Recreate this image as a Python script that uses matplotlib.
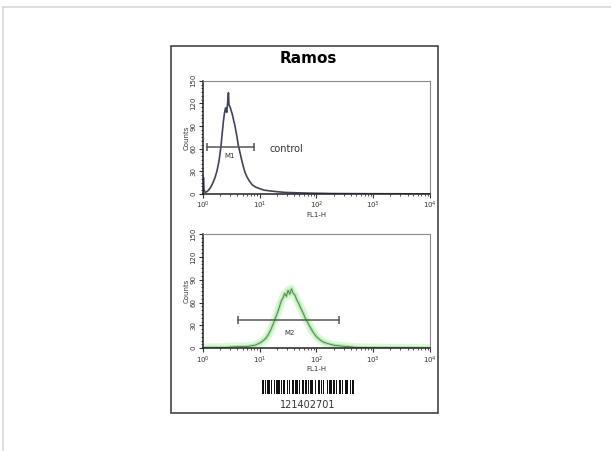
import numpy as np
import matplotlib.pyplot as plt
from matplotlib.lines import Line2D
from matplotlib.patches import Rectangle
from matplotlib.ticker import MultipleLocator, LogLocator, NullFormatter

# histogram data (log10 of FL1-H channel, counts)
top_logx = [0.0, 0.01, 0.02, 0.04, 0.07, 0.10, 0.13, 0.16, 0.19, 0.22, 0.25, 0.28, 0.30,
            0.32, 0.34, 0.36, 0.38, 0.40, 0.42, 0.44, 0.45, 0.46, 0.48, 0.50, 0.52, 0.54,
            0.56, 0.58, 0.60, 0.62, 0.65, 0.68, 0.71, 0.74, 0.78, 0.82, 0.87, 0.93, 1.00,
            1.08, 1.18, 1.30, 1.45, 1.65, 1.90, 2.30, 2.80, 3.40, 4.00]
top_counts = [0, 22, 6, 2, 3, 5, 8, 12, 17, 23, 31, 42, 52, 64, 80, 95, 107, 114, 108, 124,
              134, 118, 115, 110, 105, 98, 92, 84, 76, 66, 56, 46, 37, 29, 22, 17, 12, 9,
              7, 5, 4, 3, 2, 1.5, 1, 0.5, 0.3, 0.2, 0]

bot_logx = [0.0, 0.2, 0.4, 0.6, 0.75, 0.85, 0.92, 0.98, 1.03, 1.08, 1.12, 1.16, 1.20, 1.24,
            1.28, 1.32, 1.35, 1.38, 1.41, 1.44, 1.47, 1.50, 1.53, 1.56, 1.59, 1.62, 1.65,
            1.68, 1.72, 1.76, 1.80, 1.85, 1.90, 1.95, 2.00, 2.06, 2.12, 2.20, 2.30, 2.40,
            2.55, 2.70, 3.00, 3.50, 4.00]
bot_counts = [0.5, 1, 1, 2, 2, 3, 4, 6, 8, 11, 14, 19, 25, 32, 40, 48, 55, 62, 66, 72, 68,
              76, 71, 78, 72, 70, 64, 60, 53, 47, 40, 33, 26, 20, 15, 11, 8, 6, 4, 3, 2, 1,
              0.5, 0.3, 0]

# marker gates (FL1-H range, count level)
m1_range = [1.17, 8.1]
m1_level = 62
m2_range = [4.1, 251]
m2_level = 37

y_ticks = [0, 30, 60, 90, 120, 150]
x_ticks = [1, 10, 100, 1000, 10000]
x_ticklabels = ['$10^0$', '$10^1$', '$10^2$', '$10^3$', '$10^4$']

barcode_widths = [2, 1, 1, 1, 2, 1, 1, 2, 1, 1, 3, 1, 1, 1, 2, 2, 1, 1, 1, 1, 2, 1, 3, 1,
                  1, 2, 1, 1, 2, 1, 1, 1, 3, 1, 1, 2, 2, 1, 1, 1, 1, 2, 1, 1, 3, 1, 2, 1,
                  1, 1, 2, 1, 1, 2, 3, 1, 1, 1, 2, 1]

fig = plt.figure(figsize=(6.11, 4.51), dpi=100)
fig.patch.set_facecolor('white')

# page frame and sample box
fig.add_artist(Line2D([3/611, 1], [1 - 7/451, 1 - 7/451], color='#d8d8d8', lw=1.2))
fig.add_artist(Line2D([3/611, 3/611], [0, 1 - 7/451], color='#d8d8d8', lw=1.2))
fig.add_artist(Rectangle((0.280, 0.084), 0.437, 0.814, fill=False, ec='#444444', lw=1.2))
fig.text(0.505, 0.870, 'Ramos', ha='center', va='center', fontsize=11, fontweight='bold')


def style_axes(ax):
    ax.set_xscale('log')
    ax.set_xlim(1, 10000)
    ax.set_ylim(0, 150)
    ax.set_xticks(x_ticks)
    ax.set_xticklabels(x_ticklabels)
    ax.xaxis.set_minor_locator(LogLocator(base=10, subs=np.arange(2, 10)))
    ax.xaxis.set_minor_formatter(NullFormatter())
    ax.set_yticks(y_ticks)
    ax.yaxis.set_minor_locator(MultipleLocator(5))
    ax.tick_params(axis='both', which='major', length=3, width=0.8, labelsize=5, pad=1.5, color='#333333')
    ax.tick_params(axis='both', which='minor', length=1.5, width=0.6, color='#333333')
    ax.tick_params(axis='x', labelcolor='#333333')
    ax.tick_params(axis='y', labelcolor='#333333', labelrotation=90)
    for lab in ax.get_yticklabels():
        lab.set_va('center')
    for s in ['left', 'bottom']:
        ax.spines[s].set_color('#222222')
        ax.spines[s].set_linewidth(1.1)
    for s in ['top', 'right']:
        ax.spines[s].set_color('#8a8a8a')
        ax.spines[s].set_linewidth(0.8)
    ax.set_ylabel('Counts', fontsize=5, labelpad=1, color='#333333')
    ax.set_xlabel('FL1-H', fontsize=5, labelpad=0.5, color='#333333')


ax1 = fig.add_axes([0.332, 0.570, 0.372, 0.251])
style_axes(ax1)
ax1.plot(10 ** np.array(top_logx), top_counts, color='#3f4458', lw=1.2)
ax1.plot(m1_range, [m1_level, m1_level], color='#555555', lw=1.1,
         marker='|', markersize=6, markeredgewidth=1.1)
ax1.text(np.sqrt(m1_range[0] * m1_range[1]) * 0.95, 50, 'M1', fontsize=5,
         ha='center', va='center', color='#333333')
ax1.text(15, 59, 'control', fontsize=7, ha='left', va='center', color='#333333')

ax2 = fig.add_axes([0.332, 0.228, 0.372, 0.253])
style_axes(ax2)
bx = 10 ** np.array(bot_logx)
ax2.plot(bx, bot_counts, color='#c6f2c0', lw=6, alpha=0.6, solid_capstyle='round')
ax2.plot(bx, bot_counts, color='#9be496', lw=2.4, alpha=0.8)
ax2.plot(bx, bot_counts, color='#557055', lw=0.6)
ax2.plot(m2_range, [m2_level, m2_level], color='#555555', lw=1.1,
         marker='|', markersize=6, markeredgewidth=1.1)
ax2.text(34, 20, 'M2', fontsize=5, ha='center', va='center', color='#333333')

# barcode
axb = fig.add_axes([262/611, 1 - 394/451, 93/611, 14/451])
axb.axis('off')
pos = 0
for i, w in enumerate(barcode_widths):
    if i % 2 == 0:
        axb.add_patch(Rectangle((pos, 0), w, 1, color='#111111', lw=0))
    pos += w
axb.set_xlim(0, pos)
axb.set_ylim(0, 1)
fig.text(308/611, 1 - 405/451, '121402701', ha='center', va='center', fontsize=7, color='#333333')

fig.savefig('out.png', dpi=100)
